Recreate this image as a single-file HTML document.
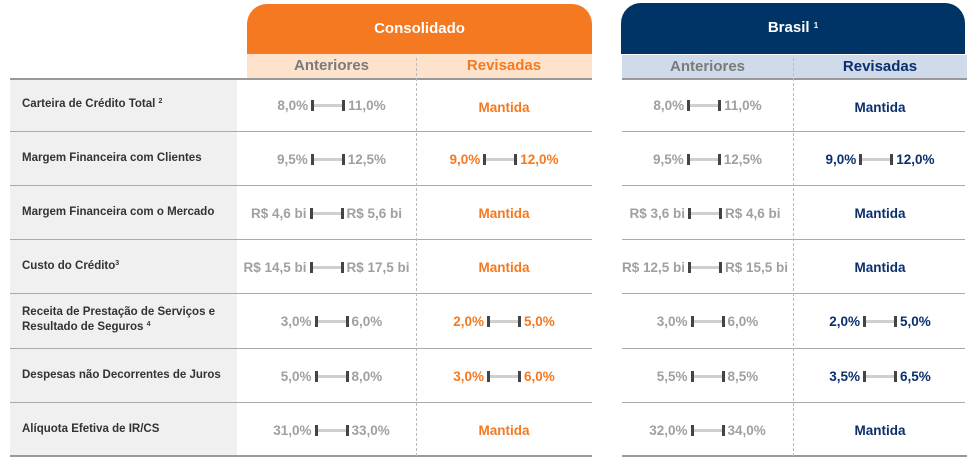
<!DOCTYPE html>
<html><head><meta charset="utf-8"><style>
body{margin:0;width:974px;height:461px;background:#fff;position:relative;overflow:hidden;font-family:"Liberation Sans",sans-serif}
.a{position:absolute}
sup{line-height:0;vertical-align:4px}
.hd{color:#fff;font-weight:bold;font-size:15px;text-align:center;line-height:50px}
.sub{font-weight:bold;font-size:15px;text-align:center;line-height:24px}
.lbl{position:absolute;left:22px;font-size:11.5px;font-weight:bold;color:#333;line-height:15px}
.cell{position:absolute;display:flex;align-items:center;justify-content:center;font-weight:bold;font-size:13.5px;height:20px}
.g{color:#a0a0a0}.o{color:#f47920}.b{color:#0b2f6b}
.bar{display:inline-block;position:relative;width:34px;height:12px;margin:0 3px}
.bar:before{content:"";position:absolute;left:2px;right:2px;top:5px;height:3px;background:#cfcfcf}
.bar i{position:absolute;top:1px;width:3px;height:11px;background:#444}
.bar i:first-child{left:0}.bar i:last-child{right:0}
.line{position:absolute;height:1px;background:#aaa}
.dash{position:absolute;width:0;border-left:1px dashed #bbb}
</style></head><body>
<div class="a hd" style="left:247px;top:4px;width:345px;height:50px;background:#f47920;border-radius:20px 20px 0 0">Consolidado</div>
<div class="a sub" style="left:247px;top:54px;width:345px;height:24px;background:#fde3cc"></div>
<div class="a sub" style="left:247px;top:54px;width:169px;color:#7a7a7a">Anteriores</div>
<div class="a sub" style="left:416px;top:54px;width:176px;color:#f47920">Revisadas</div>
<div class="a hd" style="left:621px;top:3px;width:344px;height:51px;background:#003366;border-radius:20px 20px 0 0">Brasil <sup style="font-size:8px">1</sup></div>
<div class="a sub" style="left:622px;top:55px;width:345px;height:23px;background:#cfdaeb"></div>
<div class="a sub" style="left:622px;top:55px;width:171px;color:#7a7a7a">Anteriores</div>
<div class="a sub" style="left:793px;top:55px;width:174px;color:#0b2f6b">Revisadas</div>
<div class="a" style="left:10px;top:80px;width:227px;height:376px;background:#f0f0f0"></div>
<div class="line" style="left:10px;top:78px;width:582px;height:2px;background:#999"></div>
<div class="line" style="left:622px;top:78px;width:345px;height:2px;background:#999"></div>
<div class="line" style="left:10px;top:131px;width:582px"></div><div class="line" style="left:622px;top:131px;width:343px"></div>
<div class="line" style="left:10px;top:185px;width:582px"></div><div class="line" style="left:622px;top:185px;width:343px"></div>
<div class="line" style="left:10px;top:239px;width:582px"></div><div class="line" style="left:622px;top:239px;width:343px"></div>
<div class="line" style="left:10px;top:293px;width:582px"></div><div class="line" style="left:622px;top:293px;width:343px"></div>
<div class="line" style="left:10px;top:348px;width:582px"></div><div class="line" style="left:622px;top:348px;width:343px"></div>
<div class="line" style="left:10px;top:402px;width:582px"></div><div class="line" style="left:622px;top:402px;width:343px"></div>
<div class="line" style="left:10px;top:455px;width:582px;height:2px;background:#999"></div><div class="line" style="left:622px;top:455px;width:345px;height:2px;background:#999"></div>
<div class="dash" style="left:416px;top:58px;height:398px"></div>
<div class="dash" style="left:793px;top:58px;height:398px"></div>

<div class="lbl" style="top:97px">Carteira de Crédito Total <sup style="font-size:7px">2</sup></div>
<div class="lbl" style="top:151px">Margem Financeira com Clientes</div>
<div class="lbl" style="top:205px">Margem Financeira com o Mercado</div>
<div class="lbl" style="top:259px">Custo do Crédito<sup style="font-size:7px">3</sup></div>
<div class="lbl" style="top:305px">Receita de Prestação de Serviços e<br>Resultado de Seguros <sup style="font-size:7px">4</sup></div>
<div class="lbl" style="top:368px">Despesas não Decorrentes de Juros</div>
<div class="lbl" style="top:422px">Alíquota Efetiva de IR/CS</div>

<div class="cell g" style="left:247px;width:169px;top:95px">8,0%<span class="bar"><i></i><i></i></span>11,0%</div>
<div class="cell g" style="left:247px;width:169px;top:149px">9,5%<span class="bar"><i></i><i></i></span>12,5%</div>
<div class="cell g" style="left:237px;width:179px;top:203px">R$ 4,6 bi<span class="bar"><i></i><i></i></span>R$ 5,6 bi</div>
<div class="cell g" style="left:237px;width:179px;top:257px">R$ 14,5 bi<span class="bar"><i></i><i></i></span>R$ 17,5 bi</div>
<div class="cell g" style="left:247px;width:169px;top:311px">3,0%<span class="bar"><i></i><i></i></span>6,0%</div>
<div class="cell g" style="left:247px;width:169px;top:366px">5,0%<span class="bar"><i></i><i></i></span>8,0%</div>
<div class="cell g" style="left:247px;width:169px;top:420px">31,0%<span class="bar"><i></i><i></i></span>33,0%</div>
<div class="cell o" style="left:416px;width:176px;top:97px">Mantida</div>
<div class="cell o" style="left:416px;width:176px;top:149px">9,0%<span class="bar"><i></i><i></i></span>12,0%</div>
<div class="cell o" style="left:416px;width:176px;top:203px">Mantida</div>
<div class="cell o" style="left:416px;width:176px;top:257px">Mantida</div>
<div class="cell o" style="left:416px;width:176px;top:311px">2,0%<span class="bar"><i></i><i></i></span>5,0%</div>
<div class="cell o" style="left:416px;width:176px;top:366px">3,0%<span class="bar"><i></i><i></i></span>6,0%</div>
<div class="cell o" style="left:416px;width:176px;top:420px">Mantida</div>
<div class="cell g" style="left:622px;width:171px;top:95px">8,0%<span class="bar"><i></i><i></i></span>11,0%</div>
<div class="cell g" style="left:622px;width:171px;top:149px">9,5%<span class="bar"><i></i><i></i></span>12,5%</div>
<div class="cell g" style="left:617px;width:176px;top:203px">R$ 3,6 bi<span class="bar"><i></i><i></i></span>R$ 4,6 bi</div>
<div class="cell g" style="left:617px;width:176px;top:257px">R$ 12,5 bi<span class="bar"><i></i><i></i></span>R$ 15,5 bi</div>
<div class="cell g" style="left:622px;width:171px;top:311px">3,0%<span class="bar"><i></i><i></i></span>6,0%</div>
<div class="cell g" style="left:622px;width:171px;top:366px">5,5%<span class="bar"><i></i><i></i></span>8,5%</div>
<div class="cell g" style="left:622px;width:171px;top:420px">32,0%<span class="bar"><i></i><i></i></span>34,0%</div>
<div class="cell b" style="left:793px;width:174px;top:97px">Mantida</div>
<div class="cell b" style="left:793px;width:174px;top:149px">9,0%<span class="bar"><i></i><i></i></span>12,0%</div>
<div class="cell b" style="left:793px;width:174px;top:203px">Mantida</div>
<div class="cell b" style="left:793px;width:174px;top:257px">Mantida</div>
<div class="cell b" style="left:793px;width:174px;top:311px">2,0%<span class="bar"><i></i><i></i></span>5,0%</div>
<div class="cell b" style="left:793px;width:174px;top:366px">3,5%<span class="bar"><i></i><i></i></span>6,5%</div>
<div class="cell b" style="left:793px;width:174px;top:420px">Mantida</div>
</body></html>
